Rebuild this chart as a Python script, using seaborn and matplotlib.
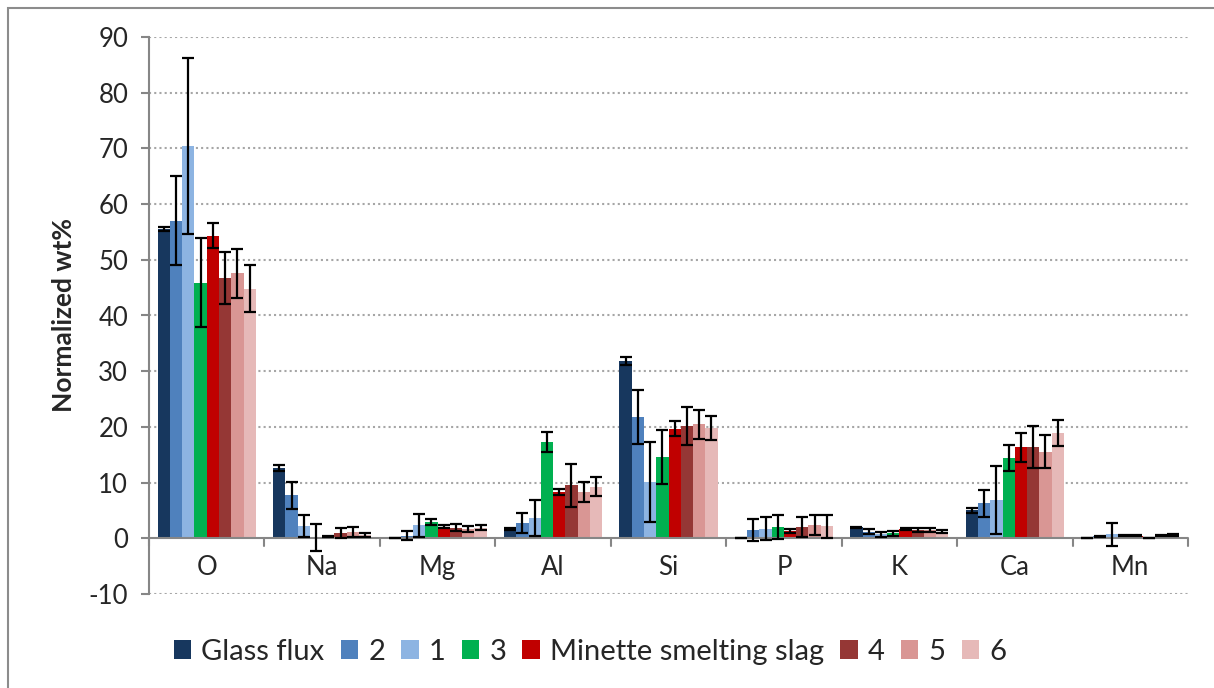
import pandas as pd
import numpy as np
import matplotlib.pyplot as plt
import seaborn as sns
from matplotlib.patches import Rectangle

# Values
elements = ['O', 'Na', 'Mg', 'Al', 'Si', 'P', 'K', 'Ca', 'Mn']
series = ['Glass flux', '2', '1', '3', 'Minette smelting slag', '4', '5', '6']
colors = ['#17375E', '#4F81BD', '#8DB4E2', '#00B050', '#C00000', '#953735', '#D99694', '#E6B9B8']

glass_flux = [55.5, 12.6, 0.05, 1.7, 31.8, 0.05, 2.0, 5.0, 0.05]
s2 = [57.0, 7.7, 0.5, 2.75, 21.8, 1.5, 1.2, 6.3, 0.4]
s1 = [70.5, 2.2, 2.3, 3.6, 10.1, 1.75, 0.7, 6.9, 0.7]
s3 = [45.9, 0.2, 2.9, 17.25, 14.55, 2.1, 0.9, 14.4, 0.5]
minette = [54.3, 0.3, 2.1, 8.3, 19.7, 1.3, 1.7, 16.35, 0.5]
s4 = [46.7, 1.0, 1.9, 9.5, 20.15, 2.1, 1.45, 16.4, 0.05]
s5 = [47.55, 1.2, 1.7, 8.35, 20.45, 2.4, 1.5, 15.55, 0.5]
s6 = [44.8, 0.6, 1.9, 9.25, 19.8, 2.15, 1.2, 18.95, 0.6]

glass_flux_err = [0.3, 0.5, 0.0, 0.2, 0.7, 0.0, 0.1, 0.45, 0.0]
s2_err = [8.0, 2.4, 0.8, 1.75, 4.8, 2.0, 0.5, 2.4, 0.1]
s1_err = [15.8, 1.9, 2.1, 3.2, 7.15, 2.05, 0.4, 6.15, 2.0]
s3_err = [7.95, 2.4, 0.6, 1.75, 4.85, 2.15, 0.5, 2.4, 0.1]
minette_err = [2.25, 0.1, 0.3, 0.6, 1.4, 0.4, 0.2, 2.6, 0.1]
s4_err = [4.7, 0.9, 0.6, 3.9, 3.45, 1.8, 0.4, 3.8, 0.0]
s5_err = [4.35, 0.9, 0.5, 1.75, 2.65, 1.8, 0.4, 2.95, 0.1]
s6_err = [4.2, 0.3, 0.4, 1.7, 2.2, 2.1, 0.3, 2.35, 0.1]

values = [glass_flux, s2, s1, s3, minette, s4, s5, s6]
errors = [glass_flux_err, s2_err, s1_err, s3_err, minette_err, s4_err, s5_err, s6_err]

rows = []
for name, vals in zip(series, values):
    for el, v in zip(elements, vals):
        rows.append({'element': el, 'sample': name, 'value': v})
df = pd.DataFrame(rows)

sns.set_style('white')
plt.rcParams['font.family'] = ['Lato', 'DejaVu Sans']
plt.rcParams['axes.unicode_minus'] = False

fig = plt.figure(figsize=(12.14, 6.88), dpi=100)
ax = fig.add_axes([149 / 1214, 1 - 594 / 688, (1188 - 149) / 1214, (594 - 37) / 688])

sns.barplot(data=df, x='element', y='value', hue='sample', order=elements,
            hue_order=series, palette=colors, errorbar=None, width=0.85,
            saturation=1, linewidth=0, ax=ax)

bar_groups = list(ax.containers)
handles = [c.patches[0] for c in bar_groups]
ax.get_legend().remove()

# error bars on top of the bars
for cont, err in zip(bar_groups, errors):
    xs = [p.get_x() + p.get_width() / 2 for p in cont]
    ys = [p.get_height() for p in cont]
    ax.errorbar(xs, ys, yerr=err, fmt='none', ecolor='black',
                elinewidth=1.6, capsize=4.5, capthick=1.6, zorder=5)

ax.set_ylim(-10, 90)
ax.set_xlim(-0.5, len(elements) - 0.5)
ax.set_yticks(np.arange(-10, 91, 10))
ax.tick_params(axis='y', labelsize=18.5, length=6, width=1.5, color='#868686',
               left=True, pad=9)
ax.set_xticks([])
ax.set_xlabel('')
ax.set_ylabel('Normalized wt%', fontsize=19, fontweight='bold')
ax.yaxis.set_label_coords(-0.07, 0.5)

# category labels sit between the zero line and -10
for i, el in enumerate(elements):
    ax.text(i, -5.3, el, ha='center', va='center', fontsize=18.5)

for y in np.arange(-10, 91, 10):
    if y != 0:
        ax.axhline(y, color='#A6A6A6', linestyle=(0, (1, 1.5)), linewidth=1.5, zorder=0)

# category axis drawn at zero, with tick marks at the category boundaries
ax.axhline(0, color='#868686', linewidth=1.5, zorder=4)
for xb in np.arange(-0.5, len(elements), 1):
    ax.plot([xb, xb], [0, -1.3], color='#868686', linewidth=1.5, zorder=4, clip_on=False)

for side in ['top', 'right', 'bottom']:
    ax.spines[side].set_visible(False)
ax.spines['left'].set_color('#868686')
ax.spines['left'].set_linewidth(1.5)

fig.legend(handles=handles, labels=series, loc='center', bbox_to_anchor=(590 / 1214, 1 - 652 / 688),
           ncol=8, frameon=False, fontsize=21, handlelength=0.6, handleheight=0.6,
           handletextpad=0.35, columnspacing=0.55)

# chart area border
fig.patches.append(Rectangle((8 / 1214, -0.1), 1.2, 1.1 - 8 / 688,
                             transform=fig.transFigure, fill=False,
                             edgecolor='#8C8C8C', linewidth=1.5))

fig.savefig('out.png', dpi=100)
